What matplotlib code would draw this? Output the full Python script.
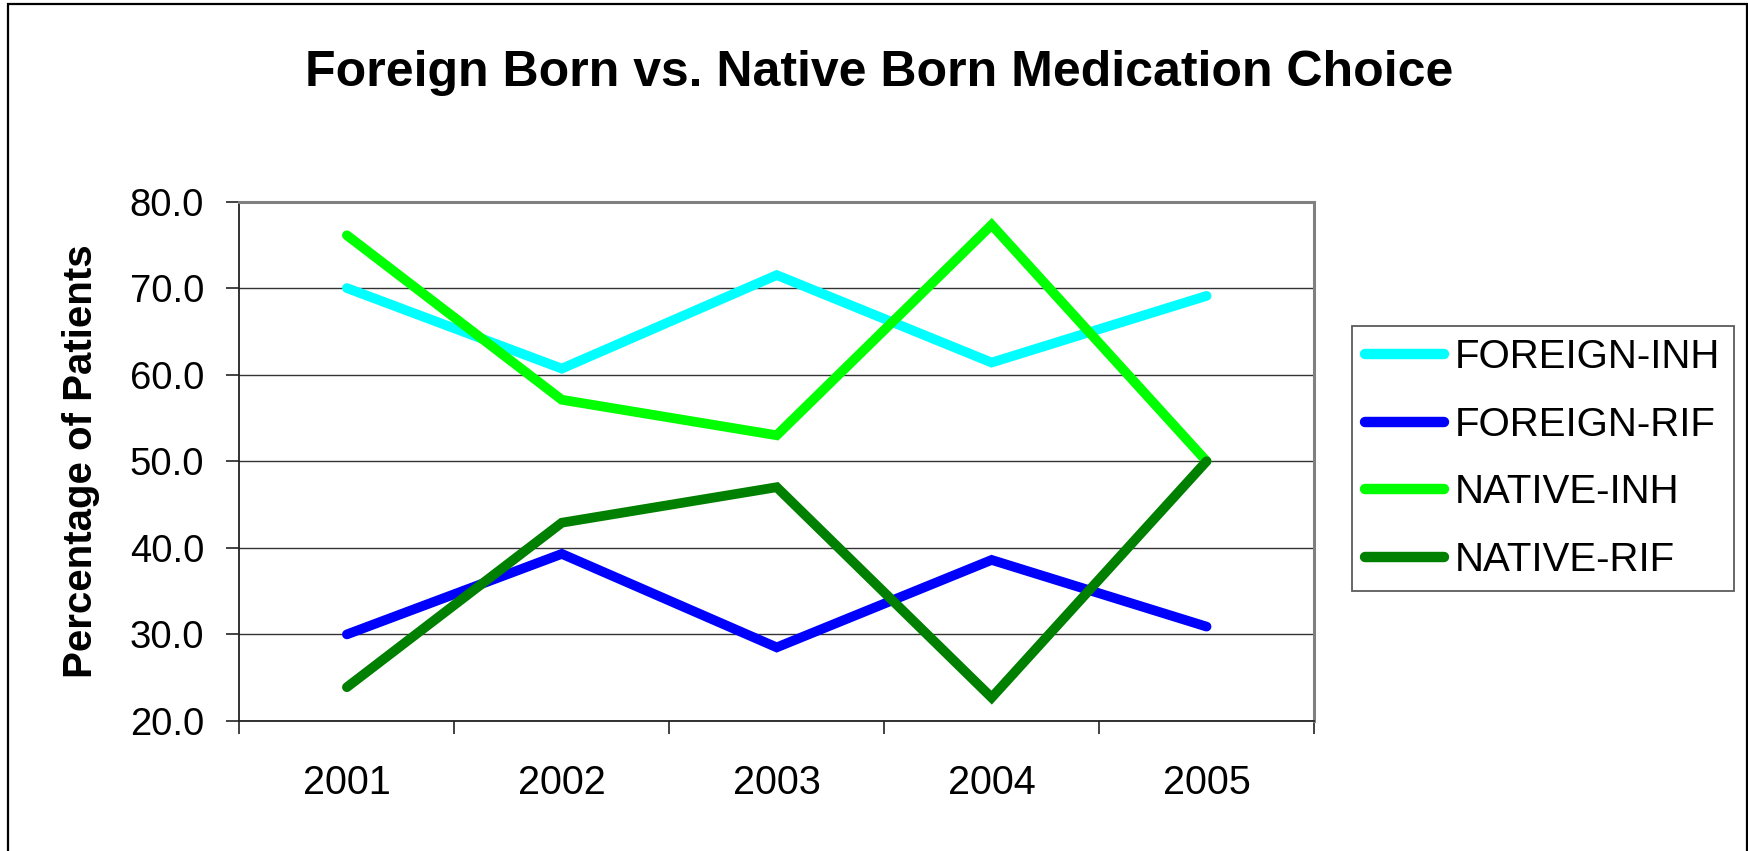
"""Foreign born vs native born medication choice, line chart."""

import matplotlib

matplotlib.use("Agg")
import matplotlib.pyplot as plt
from matplotlib.patches import Rectangle

plt.rcParams["font.family"] = ["Liberation Sans", "DejaVu Sans"]

YEARS = ["2001", "2002", "2003", "2004", "2005"]
FOREIGN_INH = [70.0, 60.7, 71.5, 61.4, 69.1]
FOREIGN_RIF = [30.0, 39.3, 28.5, 38.6, 30.9]
NATIVE_INH = [76.1, 57.1, 53.0, 77.3, 50.0]
NATIVE_RIF = [23.9, 42.9, 47.0, 22.7, 50.0]

SERIES = [
    ("FOREIGN-INH", FOREIGN_INH, "#00ffff"),
    ("FOREIGN-RIF", FOREIGN_RIF, "#0000ff"),
    ("NATIVE-INH", NATIVE_INH, "#00ff00"),
    ("NATIVE-RIF", NATIVE_RIF, "#008000"),
]


def main() -> None:
    fig = plt.figure(figsize=(17.49, 8.51), dpi=100)
    ax = fig.add_axes([0.1369, 0.1528, 0.6144, 0.6104])

    x = range(1, len(YEARS) + 1)
    for name, values, color in SERIES:
        ax.plot(x, values, color=color, lw=7, label=name,
                solid_capstyle="round", solid_joinstyle="miter")

    ax.set_xlim(0.5, len(YEARS) + 0.5)
    ax.set_ylim(20, 80)
    ax.set_yticks(range(20, 81, 10))
    ax.set_yticklabels([f"{v:.1f}" for v in range(20, 81, 10)])
    ax.yaxis.grid(True, color="#333333", lw=1.0)
    ax.set_axisbelow(True)

    # tick marks between categories, labels centred on categories
    ax.set_xticks([i + 0.5 for i in range(len(YEARS) + 1)])
    ax.set_xticklabels([])
    ax.set_xticks(list(x), minor=True)
    ax.set_xticklabels(YEARS, minor=True)
    ax.tick_params(axis="x", which="major", direction="out", length=9, width=1.2, color="#222222")
    ax.tick_params(axis="x", which="minor", length=0, pad=31, labelsize=28.5)
    ax.tick_params(axis="y", direction="out", length=9.5, width=1.2, pad=16,
                   labelsize=27.5, color="#222222")

    for side in ("top", "right"):
        ax.spines[side].set_color("#808080")
        ax.spines[side].set_linewidth(2.2)
    for side in ("left", "bottom"):
        ax.spines[side].set_color("#222222")
        ax.spines[side].set_linewidth(1.3)

    ax.set_ylabel("Percentage of Patients", fontsize=29, fontweight="bold", labelpad=21)

    fig.text(0.5025, 1 - 86 / 851, "Foreign Born vs. Native Born Medication Choice",
             ha="center", va="baseline", fontsize=36, fontweight="bold")

    leg = fig.legend(loc="upper left", bbox_to_anchor=(0.773, 0.6175, 0.2184, 0.0),
                     mode="expand", fontsize=29, frameon=True, fancybox=False,
                     edgecolor="#333333", handlelength=1.96, handletextpad=0.28,
                     labelspacing=0.73, borderpad=0.32, borderaxespad=0.0)
    leg.get_frame().set_linewidth(1.3)
    for line in leg.get_lines():
        line.set_solid_capstyle("round")
        line.set_linewidth(7.5)

    # outer chart-area border
    fig.patches.append(Rectangle((8 / 1749, -0.02), 1739 / 1749, 1.02 - 4 / 851,
                                 transform=fig.transFigure, fill=False,
                                 edgecolor="black", lw=1.6))

    fig.savefig("out.png", dpi=100)
    plt.close(fig)


if __name__ == "__main__":
    main()
